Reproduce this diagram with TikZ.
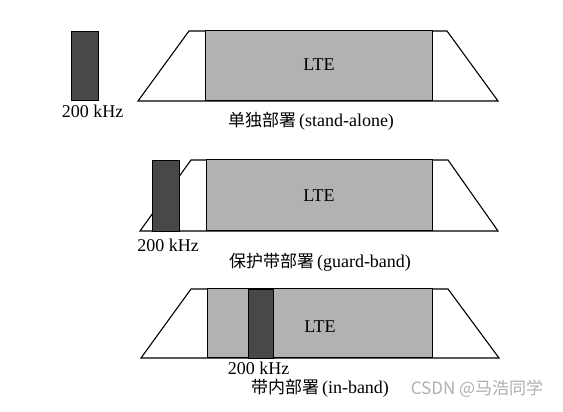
\documentclass[tikz,border=0pt]{standalone}
\usepackage{fontspec}
\setmainfont{Liberation Serif}
\newfontfamily\cjk{Noto Sans CJK SC}
\usetikzlibrary{positioning}
\definecolor{lteGray}{RGB}{178,178,178}
\definecolor{gsmDark}{RGB}{72,72,72}
\definecolor{markGray}{RGB}{175,175,175}

\begin{document}
\begin{tikzpicture}[x=1pt, y=1pt, node distance=4pt,
    band/.style={draw=black, line width=1.1pt, line join=miter},
    lte/.style={draw=black, line width=1pt, fill=lteGray, inner sep=0pt},
    gsm/.style={draw=black, line width=0.8pt, fill=gsmDark, inner sep=0pt},
    lbl/.style={font=\fontsize{18}{20}\selectfont, inner sep=0pt},
    deploy/.style={font=\fontsize{18}{20}\selectfont, inner sep=0pt}]
    \useasboundingbox (0,0) rectangle (563,412);
    %
    % stand-alone
    \coordinate (saBL) at (138,311);
    \coordinate (saTL) at (189,381);
    \coordinate (saTR) at (447,381);
    \coordinate (saBR) at (498,311);
    \draw[band] (saBL) -- (saTL) -- (saTR) -- (saBR) -- cycle;
    \node[lte, minimum width=227, minimum height=70] (saLTE) at (318.5,346) {};
    \node[lbl] at (319,347) {LTE};
    \node[gsm, minimum width=27, minimum height=69] (saGSM) at (84.5,346.5) {};
    \node[lbl, below=4pt of saGSM, xshift=8pt] (saKHz) {200 kHz};
    \node[deploy] (saCap) at (311,291) {{\cjk\fontsize{17}{20}\selectfont 单独部署}\,(stand-alone)};
    %
    % guard-band
    \coordinate (gbBL) at (140,181);
    \coordinate (gbTL) at (191,252);
    \coordinate (gbTR) at (448,252);
    \coordinate (gbBR) at (498,181);
    \draw[band] (gbBL) -- (gbTL) -- (gbTR) -- (gbBR) -- cycle;
    \node[lte, minimum width=226, minimum height=71] (gbLTE) at (319,216.5) {};
    \node[lbl] at (gbLTE.center) {LTE};
    \node[gsm, minimum width=27, minimum height=71] (gbGSM) at (165.5,216.5) {};
    \node[lbl, below=7pt of gbGSM, xshift=2.5pt] (gbKHz) {200 kHz};
    \node[deploy] (gbCap) at (320,150) {{\cjk\fontsize{17}{20}\selectfont 保护带部署}\,(guard-band)};
    %
    % in-band
    \coordinate (ibBL) at (141,54);
    \coordinate (ibTL) at (191,123);
    \coordinate (ibTR) at (448,123);
    \coordinate (ibBR) at (499,54);
    \draw[band] (ibBL) -- (ibTL) -- (ibTR) -- (ibBR) -- cycle;
    \node[lte, minimum width=225, minimum height=69] (ibLTE) at (319.5,88.5) {};
    \node[lbl] at (320,85) {LTE};
    \node[gsm, minimum width=25, minimum height=69] (ibGSM) at (260.5,88.5) {};
    \node[lbl, below=3pt of ibGSM, xshift=-2pt] (ibKHz) {200 kHz};
    \node[deploy] (ibCap) at (320,23.5) {{\cjk\fontsize{17}{20}\selectfont 带内部署}\,(in-band)};
    %
    \node[font=\fontsize{17}{19}\selectfont\cjk, text=markGray, inner sep=0pt] (mark) at (477,23.5) {CSDN @马浩同学};
\end{tikzpicture}
\end{document}
